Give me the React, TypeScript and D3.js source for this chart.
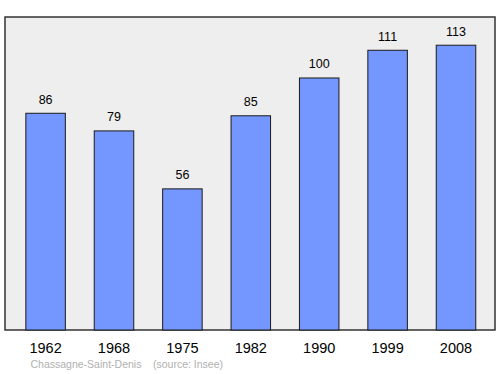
import React from "react";
import * as d3 from "d3";

const years = ["1962", "1968", "1975", "1982", "1990", "1999", "2008"];
const population = [86, 79, 56, 85, 100, 111, 113];
const commune = "Chassagne-Saint-Denis";
const sourceText = "(source: Insee)";

export default function App() {
  const W = 500, H = 374;
  const left = 5, right = 495, top = 17, bottom = 330;
  const x = d3.scaleBand<string>().domain(years).range([left + 0.8, right + 0.8]).paddingInner(0.4225).paddingOuter(0.293);
  const y = d3.scaleLinear().domain([0, 124.2]).range([bottom, top]);
  const font = "'Liberation Sans', Arial, sans-serif";
  return (
    <svg width={W} height={H} style={{ position: "absolute", left: 0, top: 0 }}>
      <rect x={left} y={top} width={right - left} height={bottom - top} fill="#eeeeee" stroke="#333" strokeWidth={1.5} />
      {years.map((yr, i) => {
        const v = population[i];
        const bx = x(yr)!;
        return (
          <g key={yr}>
            <rect x={bx} y={y(v)} width={x.bandwidth()} height={bottom - y(v)} fill="#7396ff" stroke="#1a1a1a" strokeWidth={1} />
            <text x={bx + x.bandwidth() / 2} y={y(v) - 9.5} textAnchor="middle" fontFamily={font} fontSize={12.5} fill="#000">{v}</text>
            <text x={bx + x.bandwidth() / 2} y={352.5} textAnchor="middle" fontFamily={font} fontSize={14.5} fill="#000">{yr}</text>
          </g>
        );
      })}
      <text x={30.5} y={368} fontFamily={font} fontSize={10.5} fill="#b0b0b0">{commune}</text>
      <text x={153} y={368} fontFamily={font} fontSize={10.5} fill="#b0b0b0">{sourceText}</text>
    </svg>
  );
}
